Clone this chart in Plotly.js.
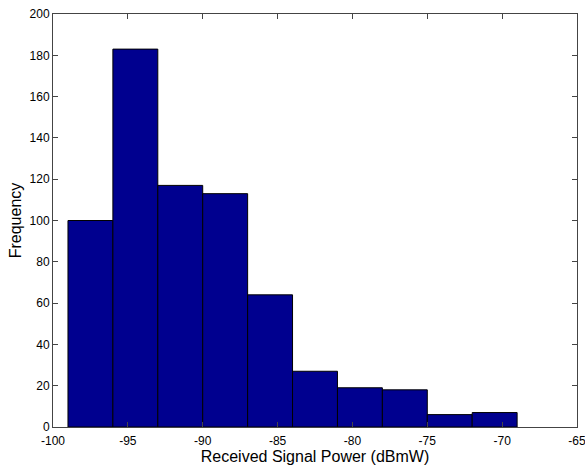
<!DOCTYPE html>
<html>
<head>
<meta charset="utf-8">
<script src="https://cdn.plot.ly/plotly-3.0.1.min.js"></script>
<style>
  html, body { margin: 0; padding: 0; background: #fff; }
  #chart { width: 585px; height: 466px; }
</style>
</head>
<body>
<div id="chart"></div>
<script>
// Histogram of received signal power, 3 dB-wide bins
const binCenters = [-97.5, -94.5, -91.5, -88.5, -85.5, -82.5, -79.5, -76.5, -73.5, -70.5];
const counts = [100, 183, 117, 113, 64, 27, 19, 18, 6, 7];
const binWidth = 3;
const xTicks = [-100, -95, -90, -85, -80, -75, -70, -65];
const yTicks = [0, 20, 40, 60, 80, 100, 120, 140, 160, 180, 200];

const font = 'Liberation Sans, Arial, sans-serif';

const trace = {
  type: 'bar',
  x: binCenters,
  y: counts,
  width: binCenters.map(() => binWidth),
  marker: { color: '#00008F', line: { color: '#000000', width: 1 } },
  hoverinfo: 'x+y'
};

const axisCommon = {
  showgrid: false,
  zeroline: false,
  showline: true,
  linecolor: '#444',
  linewidth: 1,
  mirror: 'ticks',
  ticks: 'inside',
  ticklen: 5,
  tickcolor: '#444',
  ticklabeloverflow: 'allow',
  tickfont: { family: font, size: 12, color: '#000' }
};

const layout = {
  width: 585,
  height: 466,
  margin: { l: 53, r: 8, t: 14, b: 39 },
  paper_bgcolor: '#fff',
  plot_bgcolor: '#fff',
  showlegend: false,
  bargap: 0,
  xaxis: Object.assign({}, axisCommon, {
    range: [-100, -65],
    tickvals: xTicks,
    ticktext: xTicks.map(String),
    ticklabelstandoff: 3,
    title: { text: 'Received Signal Power (dBmW)', font: { family: font, size: 16, color: '#000' }, standoff: 1 }
  }),
  yaxis: Object.assign({}, axisCommon, {
    range: [0, 200],
    tickvals: yTicks,
    ticktext: yTicks.map(String),
    title: { text: 'Frequency', font: { family: font, size: 16, color: '#000' }, standoff: 3 }
  })
};

Plotly.newPlot('chart', [trace], layout, { displayModeBar: false, staticPlot: true });
</script>
</body>
</html>
